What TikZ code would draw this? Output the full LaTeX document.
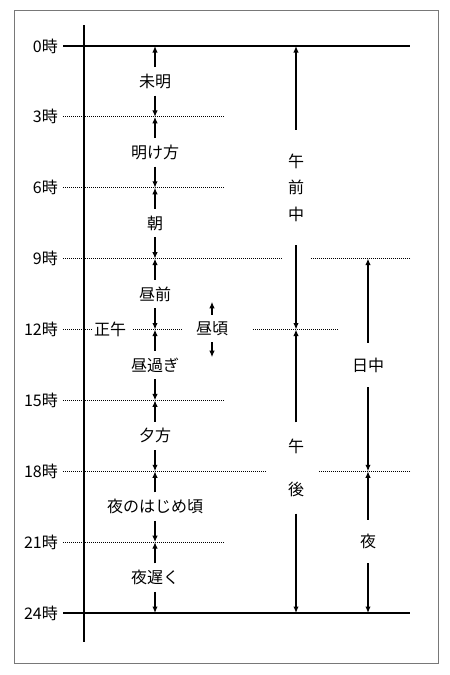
\documentclass[tikz,border=0pt]{standalone}
\usepackage{fontspec}
\setmainfont{Noto Sans CJK JP}
\usetikzlibrary{arrows.meta, positioning, calc}
\definecolor{framecol}{RGB}{120,120,120}

\begin{document}
\begin{tikzpicture}[
  x=1pt, y=-1pt,
  font=\fontsize{16}{19}\selectfont,
  hourlbl/.style={anchor=east, inner sep=0pt},
  period/.style={inner sep=0pt, minimum height=28pt},
  colbox/.style={inner sep=0pt, align=center},
  arr/.style={-{Latex[length=6.5pt, width=5.5pt]}, line width=1.2pt},
  dots/.style={line width=0.9pt, dash pattern=on 1pt off 1pt},
  heavy/.style={line width=1.7pt}
]
  \useasboundingbox (0,0) rectangle (450,675);
  \draw[framecol] (14,10) rectangle (438,663);

  % hour marks
  \foreach \h in {0,3,...,24} {
    \pgfmathsetmacro\yy{46+\h*23.625}
    \coordinate (t\h) at (63,\yy);
    \coordinate (r\h) at (410,\yy);
    \node[hourlbl] (l\h) at (58,\yy) {\h 時};
  }
  \coordinate (axtop) at (84,25);
  \coordinate (axbot) at (84,642);
  \draw[heavy] (axtop) -- (axbot);
  \draw[heavy] (t0) -- (r0);
  \draw[heavy] (t24) -- (r24);

  % dotted hour lines
  \foreach \h in {3,6,15,21} \draw[dots] (t\h) -- ++(162,0);
  \draw[dots] (t9) -- ++(219,0);
  \draw[dots] (r9) -- ++(-100,0);
  \draw[dots] (t18) -- ++(204,0);
  \draw[dots] (r18) -- ++(-92,0);

  % noon
  \node[inner sep=0pt] (shogo) at (110,329.5) {正午};
  \node[period, minimum height=27pt] (hirugoro) at (212,328.5) {昼頃};
  \draw[dots] (t12) -- ++(29,0);
  \draw[dots] (133,329.5) -- ++(50,0);
  \draw[dots] (253,329.5) -- ++(85,0);
  \draw[arr] (hirugoro.north) -- ++(0,-13);
  \draw[arr] (hirugoro.south) -- ++(0,15);

  % three-hour periods
  \foreach \txt [count=\i] in {未明,明け方,朝,昼前,昼過ぎ,夕方,夜のはじめ頃,夜遅く} {
    \pgfmathsetmacro\yy{46+(\i-0.5)*70.875}
    \pgfmathtruncatemacro\a{3*(\i-1)}
    \pgfmathtruncatemacro\b{3*\i}
    \node[period] (m\i) at (155,\yy) {\txt};
    \draw[arr] (m\i.north) -- (m\i.north |- t\a);
    \draw[arr] (m\i.south) -- (m\i.south |- t\b);
  }

  % morning / afternoon
  \node[colbox, font=\fontsize{16}{26.5}\selectfont, minimum height=115pt]
    (gozen) at (296,187.5) {午\\前\\中};
  \draw[arr] (gozen.north) -- (gozen.north |- t0);
  \draw[arr] (gozen.south) -- (gozen.south |- t12);
  \node[colbox, font=\fontsize{16}{43}\selectfont, minimum height=91pt]
    (gogo) at (296,468) {午\\後};
  \draw[arr] (gogo.north) -- (gogo.north |- t12);
  \draw[arr] (gogo.south) -- (gogo.south |- t24);

  % daytime / night
  \node[colbox, minimum height=44pt] (nitchu) at (368,365) {日中};
  \draw[arr] (nitchu.north) -- (nitchu.north |- t9);
  \draw[arr] (nitchu.south) -- (nitchu.south |- t18);
  \node[colbox, minimum height=43pt] (yoru) at (368,541.5) {夜};
  \draw[arr] (yoru.north) -- (yoru.north |- t18);
  \draw[arr] (yoru.south) -- (yoru.south |- t24);
\end{tikzpicture}
\end{document}
